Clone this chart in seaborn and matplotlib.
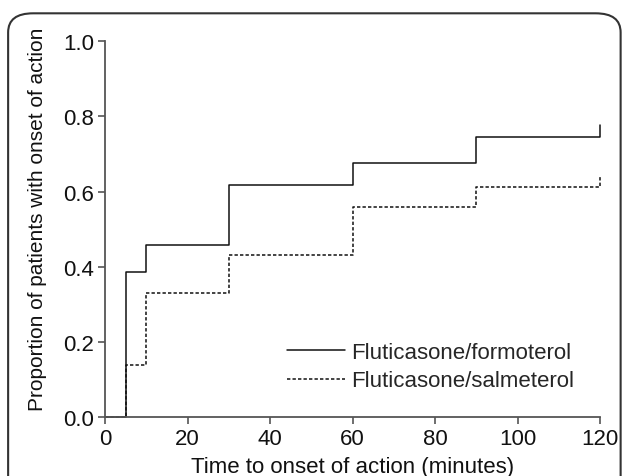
import matplotlib
matplotlib.use('Agg')
from matplotlib import pyplot as plt
from matplotlib.patches import FancyBboxPatch
import seaborn as sns

minutes = [0, 5, 10, 30, 60, 90, 120]
formoterol = [0.0, 0.387, 0.458, 0.616, 0.677, 0.744, 0.776]
salmeterol = [0.0, 0.140, 0.331, 0.431, 0.560, 0.611, 0.638]
x_ticks = [0, 20, 40, 60, 80, 100, 120]
y_ticks = [0.0, 0.2, 0.4, 0.6, 0.8, 1.0]

sns.set_style('ticks')
plt.rcParams['font.family'] = ['Liberation Sans', 'DejaVu Sans']

fig = plt.figure(figsize=(6.25, 4.77), dpi=100)
ax = fig.add_axes([0.168, 0.123, 0.792, 0.789])

# outer rounded frame (open at the bottom, like the source figure)
frame = FancyBboxPatch((0.013, -0.2), 0.98, 1.17,
                       boxstyle='round,pad=0,rounding_size=0.04',
                       transform=fig.transFigure, fill=False,
                       edgecolor='#333333', linewidth=1.5, clip_on=False)
fig.patches.append(frame)

sns.lineplot(x=minutes, y=formoterol, ax=ax, drawstyle='steps-post',
             color='#111111', linewidth=1.1, estimator=None,
             label='Fluticasone/formoterol', clip_on=False)
sns.lineplot(x=minutes, y=salmeterol, ax=ax, drawstyle='steps-post',
             color='#111111', linewidth=1.1, linestyle=(0, (2.2, 1.4)),
             estimator=None, label='Fluticasone/salmeterol', clip_on=False)

ax.set_xlim(0, 120)
ax.set_ylim(0, 1.0)
ax.set_xticks(x_ticks)
ax.set_yticks(y_ticks)
ax.set_yticklabels([f'{v:.1f}' for v in y_ticks])
ax.tick_params(labelsize=16, length=5, width=1.2, color='#555555',
               labelcolor='#111111', pad=3)
for s in ['left', 'bottom']:
    ax.spines[s].set_color('#555555')
    ax.spines[s].set_linewidth(1.3)
sns.despine(ax=ax)

ax.set_xlabel('Time to onset of action (minutes)', fontsize=16,
              color='#111111', labelpad=5)
ax.set_ylabel('Proportion of patients with onset of action', fontsize=15,
              color='#111111')
ax.yaxis.set_label_coords(-0.117, 0.53)

ax.legend(loc='center left', bbox_to_anchor=(0.368, 0.135), frameon=False,
          fontsize=16, handlelength=2.6, handletextpad=0.3,
          labelspacing=0.35, borderpad=0, borderaxespad=0)

plt.savefig('out.png', dpi=100)
plt.close()
